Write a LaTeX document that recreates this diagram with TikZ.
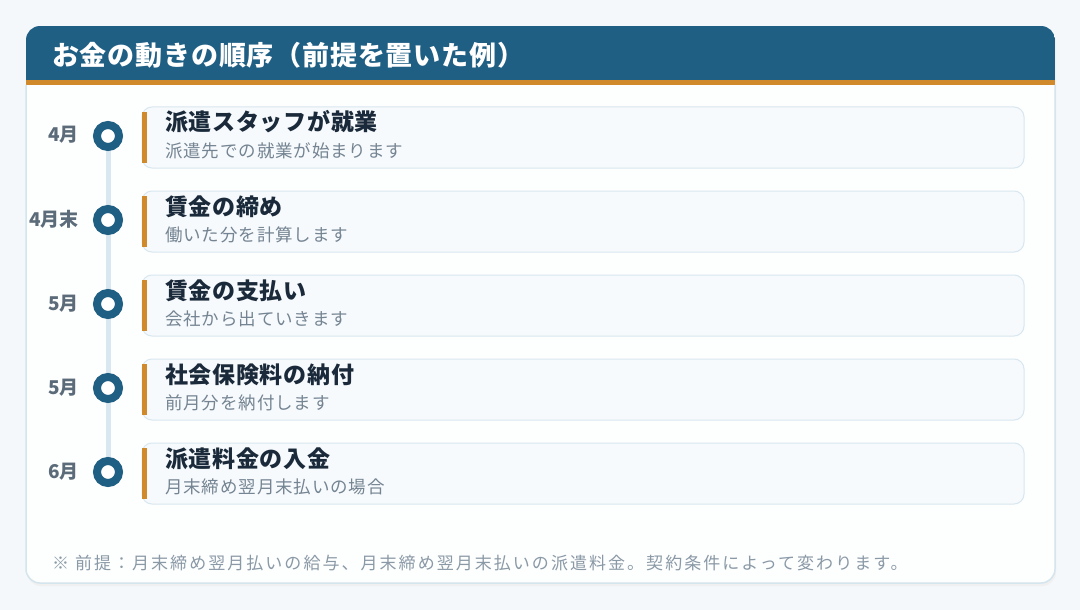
\documentclass[tikz,border=0pt]{standalone}
\usepackage{fontspec}
\setmainfont{Noto Sans CJK JP}
\usetikzlibrary{calc}
\definecolor{hdr}{HTML}{205F84}
\definecolor{orn}{HTML}{D08A2C}
\definecolor{cardborder}{HTML}{D5E5EE}
\definecolor{itemfill}{HTML}{F7FAFC}
\definecolor{itemborder}{HTML}{D8E7F0}
\definecolor{ttl}{HTML}{1B2A3A}
\definecolor{sub}{HTML}{748492}
\definecolor{datec}{HTML}{5B6B79}
\definecolor{foot}{HTML}{8A99A6}
\definecolor{tline}{HTML}{D9E7F1}
\definecolor{bg}{HTML}{F4F8FB}
\definecolor{cardfill}{HTML}{FDFEFE}
\tikzset{
  itembox/.style={draw=itemborder, line width=1pt, fill=itemfill, rounded corners=10pt},
  itemtitle/.style={anchor=base west, inner sep=0pt, text=ttl, font=\fontsize{23}{27}\selectfont\bfseries\addfontfeatures{LetterSpace=3}},
  itemsub/.style={anchor=base west, inner sep=0pt, text=sub, font=\fontsize{17.5}{20}\selectfont\addfontfeatures{LetterSpace=5}},
  datelabel/.style={anchor=base east, inner sep=0pt, text=datec, font=\fontsize{19}{22}\selectfont\bfseries},
  dot/.style={circle, fill=white, draw=hdr, line width=8pt, minimum size=22pt, inner sep=0pt}
}
\begin{document}
\begin{tikzpicture}[x=1pt,y=-1pt]
\useasboundingbox (0,0) rectangle (1080,610);
\fill[bg] (0,0) rectangle (1080,610);
% card
\fill[black!6] (27,28) [rounded corners=14pt] rectangle (1056,586);
\fill[cardfill, rounded corners=14pt] (26,26) rectangle (1055,583);
\begin{scope}
  \clip[rounded corners=14pt] (26,26) rectangle (1055,583);
  \fill[hdr] (26,26) rectangle (1055,80);
  \fill[orn] (26,80) rectangle (1055,85);
\end{scope}
\draw[cardborder, line width=1.5pt, rounded corners=14pt] (26,85) -- (26,583) -- (1055,583) -- (1055,85);
\node[anchor=base west, inner sep=0pt, text=white, font=\fontsize{27}{31}\selectfont\bfseries\addfontfeatures{LetterSpace=3}] (title) at (52,65.5) {お金の動きの順序（前提を置いた例）};
% timeline line
\coordinate (ltop) at (108,136);
\coordinate (lbot) at (108,472);
\draw[tline, line width=5pt] (ltop) -- (lbot);
% items
\foreach \i/\d/\t/\s in {0/4月/派遣スタッフが就業/派遣先での就業が始まります,
                          1/4月末/賃金の締め/働いた分を計算します,
                          2/5月/賃金の支払い/会社から出ていきます,
                          3/5月/社会保険料の納付/前月分を納付します,
                          4/6月/派遣料金の入金/月末締め翌月末払いの場合}{
  \pgfmathsetmacro{\oy}{84*\i}
  \draw[itembox] (142,107+\oy) rectangle (1024,168+\oy);
  \fill[orn] (142,112+\oy) rectangle (147,163+\oy);
  \node[itemtitle] (t\i) at (165,131+\oy) {\t};
  \node[itemsub] (s\i) at (165,157.5+\oy) {\s};
  \node[dot] (c\i) at (108,136+\oy) {};
  \node[datelabel] (d\i) at (79,142+\oy) {\d};
}
\node[anchor=base west, inner sep=0pt, text=foot, font=\fontsize{17}{20}\selectfont\addfontfeatures{LetterSpace=12}] (note) at (52,569) {※ 前提：月末締め翌月払いの給与、月末締め翌月末払いの派遣料金。契約条件によって変わります。};
\end{tikzpicture}
\end{document}
